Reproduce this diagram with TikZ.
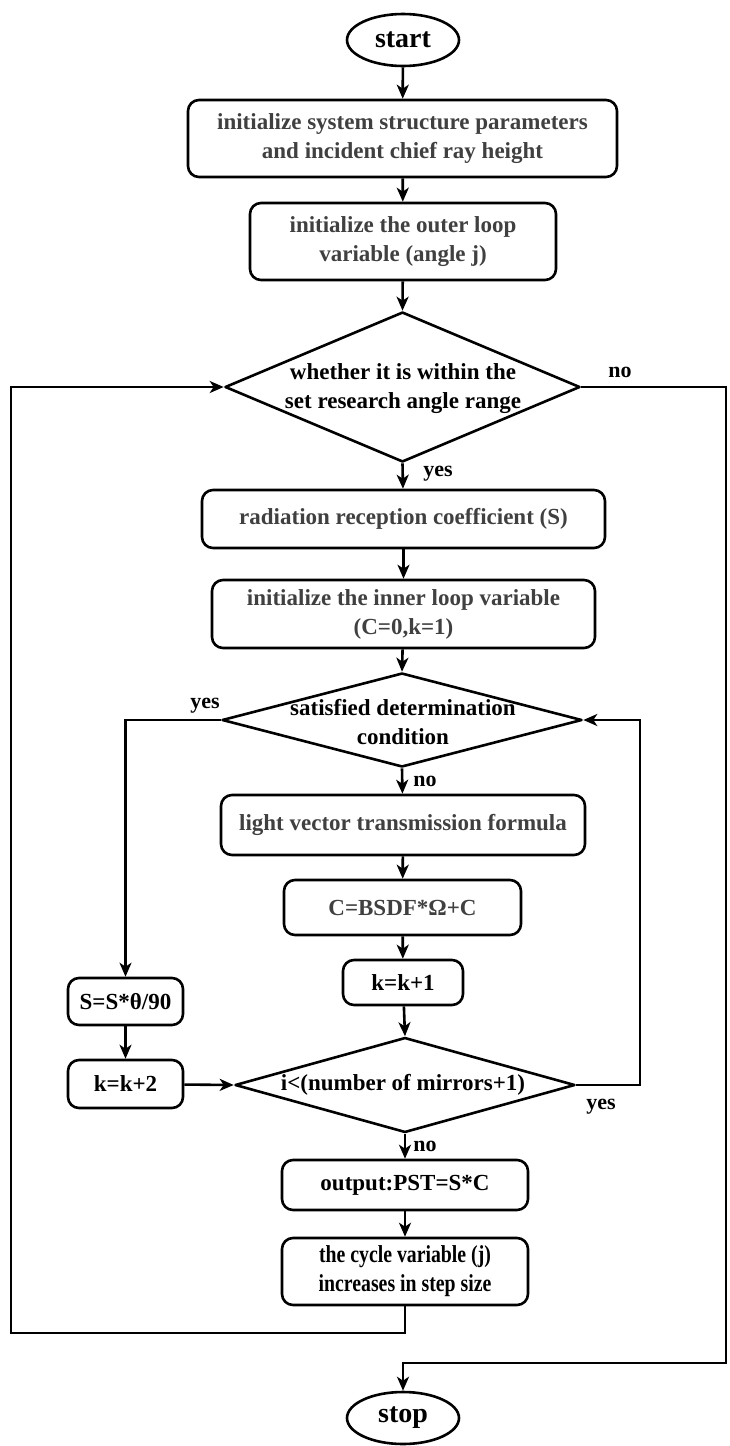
\documentclass[tikz,border=0pt]{standalone}
\usepackage{fontspec}
\setmainfont{Liberation Serif}
\usetikzlibrary{arrows.meta,shapes.geometric}
\definecolor{gtext}{RGB}{64,64,64}
\begin{document}
\begin{tikzpicture}[x=1pt,y=-1pt,
  line width=2.6pt,
  every node/.style={font=\bfseries\fontsize{23}{29}\selectfont, inner sep=0pt},
  box/.style={draw, rounded corners=11pt, align=center},
  term/.style={draw, ellipse, font=\bfseries\fontsize{28}{30}\selectfont, minimum width=112pt, minimum height=52pt},
  decision/.style={draw, diamond, line join=round},
  arr/.style={-{Stealth[length=14pt,width=12pt,inset=4pt]}},
  lbl/.style={font=\bfseries\fontsize{22}{24}\selectfont},
  grey/.style={text=gtext}
]
\useasboundingbox[fill=white] (0,0) rectangle (729,1446);

% terminals
\node[term] (start) at (403,40) {start};
\node[term] (stop) at (403,1418) {stop};

% process boxes
\node[box,grey,minimum width=429pt,minimum height=77pt] (b1) at (402.5,138.5) {initialize system structure parameters\\and incident chief ray height};
\node[box,grey,minimum width=306pt,minimum height=77pt] (b2) at (403,241.5) {initialize the outer loop\\variable (angle j)};
\node[box,grey,minimum width=403pt,minimum height=58pt] (b3) at (403.5,519) {radiation reception coefficient (S)};
\node[box,grey,minimum width=383pt,minimum height=68pt] (b4) at (403.5,614) {initialize the inner loop variable\\(C=0,k=1)};
\node[box,grey,minimum width=364pt,minimum height=60pt] (b5) at (403,825) {light vector transmission formula};
\node[box,grey,minimum width=237pt,minimum height=55pt] (b6) at (402.5,907.5) {C=BSDF*Ω+C};
\node[box,minimum width=120pt,minimum height=45pt] (b7) at (403,982.5) {k=k+1};
\node[box,minimum width=246pt,minimum height=50pt] (b8) at (405,1185) {output:PST=S*C};
\node[box,minimum width=246pt,minimum height=67pt] (b9) at (405,1271.5) {\scalebox{0.86}[1.06]{the cycle variable (j)}\\\scalebox{0.86}[1.06]{increases in step size}};
\node[box,minimum width=115pt,minimum height=47pt] (sb) at (125.5,1001.5) {S=S*θ/90};
\node[box,minimum width=115pt,minimum height=48pt] (kb) at (125.5,1084) {k=k+2};

% decisions
\node[decision,minimum width=355pt,minimum height=150pt] (d1) at (402.5,387) {};
\node[align=center] (t1) at (403,389) {whether it is within the\\set research angle range};
\node[decision,minimum width=360pt,minimum height=94pt] (d2) at (402,720) {};
\node[align=center] (t2) at (403,722) {satisfied determination\\condition};
\node[decision,minimum width=340pt,minimum height=95pt] (d3) at (405,1085) {};
\node (t3) at (403,1085) {i<(number of mirrors+1)};

% helper coordinates
\coordinate (rl) at (640,1085);
\coordinate (c1) at (405,1333);
\coordinate (c2) at (11,1333);
\coordinate (c3) at (726,387);
\coordinate (c4) at (726,1363);
\coordinate (c5) at (403,1363);

% main column
\draw[arr] (start) -- (b1);
\draw[arr] (b1) -- (b2);
\draw[arr] (b2) -- (d1.north);
\draw[arr] (d1.south) -- (b3);
\draw[arr] (b3) -- (b4);
\draw[arr] (b4) -- (d2.north);
\draw[arr] (d2.south) -- (b5);
\draw[arr] (b5) -- (b6);
\draw[arr] (b6) -- (b7);
\draw[arr] (b7) -- (d3.north);
\draw[arr] (d3.south) -- (b8);
\draw[arr] (b8) -- (b9);

% left branch
\draw[arr] (d2.west) -| (sb);
\draw[arr] (sb) -- (kb);
\draw[arr] (kb) -- (d3.west);

% inner loop back
\draw[arr] (d3.east) -- (rl) |- (d2.east);

% outer loop back
\draw[arr] (b9.south) -- (c1) -- (c2) |- (d1.west);

% exit
\draw[arr] (d1.east) -- (c3) -- (c4) -- (c5) -- (stop);

% labels
\node[lbl] (l1) at (620,372) {no};
\node[lbl] (l2) at (438,474) {yes};
\node[lbl] (l3) at (205,706) {yes};
\node[lbl] (l4) at (425,781) {no};
\node[lbl] (l5) at (601,1107) {yes};
\node[lbl] (l6) at (425,1146) {no};
\end{tikzpicture}
\end{document}
